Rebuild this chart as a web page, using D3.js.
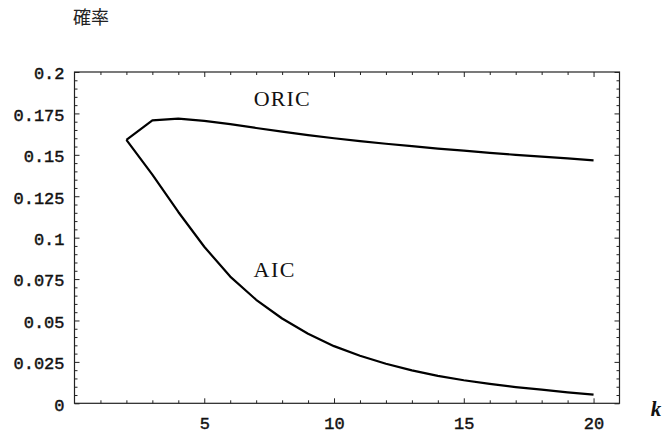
<!DOCTYPE html>
<html>
<head>
<meta charset="utf-8">
<script src="https://cdn.jsdelivr.net/npm/d3@7"></script>
<style>
  html, body { margin: 0; padding: 0; background: #fff; }
  svg { display: block; }
</style>
</head>
<body>
<script>
// ---- data ----
const kValues = [2,3,4,5,6,7,8,9,10,11,12,13,14,15,16,17,18,19,20];
const oricValues = [0.159,0.1708,0.1718,0.1705,0.1685,0.1662,0.1640,0.1619,0.1600,0.1583,0.1567,0.1552,0.1538,0.1525,0.1512,0.1500,0.1489,0.1478,0.1467];
const aicValues  = [0.159,0.138,0.1155,0.0945,0.0765,0.0625,0.0512,0.042,0.0345,0.0287,0.0239,0.0199,0.0166,0.0139,0.0117,0.0098,0.0082,0.0066,0.0052];
const xMajorTicks = [5,10,15,20];
const yMajorTicks = [0,0.025,0.05,0.075,0.1,0.125,0.15,0.175,0.2];
const yTickLabels = ["0","0.025","0.05","0.075","0.1","0.125","0.15","0.175","0.2"];
const seriesLabels = ["ORIC","AIC"];
const yTitle = "確率";
const xTitle = "k";

const W = 665, H = 435;
const svg = d3.select("body").append("svg").attr("width", W).attr("height", H);

const x = d3.scaleLinear().domain([0, 21]).range([74.5, 619.5]);
const y = d3.scaleLinear().domain([0, 0.2]).range([403.3, 72]);

const xMinor = d3.range(1, 21).filter(v => !xMajorTicks.includes(v));
const yMinor = d3.range(0, 41).map(i => +(i * 0.005).toFixed(3)).filter(v => !yMajorTicks.some(m => Math.abs(m - v) < 1e-9));

const frameColor = "#222";
const monoFont = "'Liberation Mono', 'Courier New', monospace";

function styleAxis(g) {
  g.select(".domain").remove();
  g.selectAll(".tick line").attr("stroke", frameColor).attr("stroke-width", 1);
}
function styleLabels(g) {
  g.selectAll("text").attr("font-family", monoFont).attr("font-size", 17)
    .attr("fill", "#111").attr("stroke", "#111").attr("stroke-width", 0.45);
}

// bottom axis
svg.append("g").attr("transform", `translate(0,${y(0)})`)
  .call(d3.axisBottom(x).tickValues(xMinor).tickSize(-3).tickFormat(""))
  .call(styleAxis);
svg.append("g").attr("transform", `translate(0,${y(0)})`)
  .call(d3.axisBottom(x).tickValues(xMajorTicks).tickSize(-5).tickPadding(14).tickFormat(d3.format("d")))
  .call(styleAxis)
  .call(styleLabels);
// top axis
svg.append("g").attr("transform", `translate(0,${y(0.2)})`)
  .call(d3.axisTop(x).tickValues(xMinor).tickSize(-3).tickFormat(""))
  .call(styleAxis);
svg.append("g").attr("transform", `translate(0,${y(0.2)})`)
  .call(d3.axisTop(x).tickValues(xMajorTicks).tickSize(-5).tickFormat(""))
  .call(styleAxis);
// left axis
svg.append("g").attr("transform", `translate(${x(0)},0)`)
  .call(d3.axisLeft(y).tickValues(yMinor).tickSize(-3).tickFormat(""))
  .call(styleAxis);
svg.append("g").attr("transform", `translate(${x(0)},0)`)
  .call(d3.axisLeft(y).tickValues(yMajorTicks).tickSize(-5).tickPadding(10)
        .tickFormat((d, i) => yTickLabels[i]))
  .call(styleAxis)
  .call(styleLabels)
  .call(g => g.selectAll("text").attr("dy", "0.4em"));
// right axis
svg.append("g").attr("transform", `translate(${x(21)},0)`)
  .call(d3.axisRight(y).tickValues(yMinor).tickSize(-3).tickFormat(""))
  .call(styleAxis);
svg.append("g").attr("transform", `translate(${x(21)},0)`)
  .call(d3.axisRight(y).tickValues(yMajorTicks).tickSize(-5).tickFormat(""))
  .call(styleAxis);

// frame
svg.append("rect")
  .attr("x", x(0)).attr("y", y(0.2))
  .attr("width", x(21) - x(0)).attr("height", y(0) - y(0.2))
  .attr("fill", "none").attr("stroke", frameColor).attr("stroke-width", 1.2);

// lines
const line = d3.line().x(d => x(d[0])).y(d => y(d[1]));
[oricValues, aicValues].forEach(vals => {
  svg.append("path")
    .datum(kValues.map((k, i) => [k, vals[i]]))
    .attr("d", line)
    .attr("fill", "none").attr("stroke", "#000").attr("stroke-width", 2.2)
    .attr("stroke-linejoin", "round");
});

// series labels
const serif = "'Liberation Serif', 'DejaVu Serif', serif";
svg.append("text").attr("x", 281.7).attr("y", 106).attr("text-anchor", "middle")
  .attr("font-family", serif).attr("font-size", 22).attr("fill", "#111")
  .attr("textLength", 56).attr("lengthAdjust", "spacing")
  .text(seriesLabels[0]);
svg.append("text").attr("x", 274).attr("y", 277).attr("text-anchor", "middle")
  .attr("font-family", serif).attr("font-size", 22).attr("fill", "#111")
  .attr("textLength", 41).attr("lengthAdjust", "spacing")
  .text(seriesLabels[1]);

// axis titles
svg.append("text").attr("x", 91).attr("y", 24).attr("text-anchor", "middle")
  .attr("font-family", "'Noto Sans CJK JP', sans-serif").attr("font-size", 18).attr("fill", "#222")
  .text(yTitle);
svg.append("text").attr("x", 656).attr("y", 416).attr("text-anchor", "middle")
  .attr("font-family", serif).attr("font-style", "italic").attr("font-weight", "bold").attr("font-size", 21).attr("fill", "#111")
  .text(xTitle);
</script>
</body>
</html>
